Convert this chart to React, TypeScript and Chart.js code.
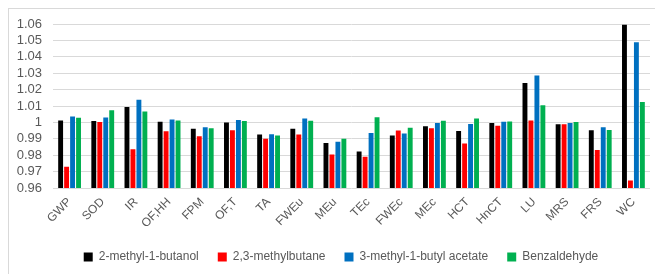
import React, { useEffect, useRef } from "react";
import { Chart, registerables } from "chart.js";

Chart.register(...registerables);

const categories = ["GWP", "SOD", "IR", "OF,HH", "FPM", "OF,T", "TA", "FWEu", "MEu", "TEc", "FWEc", "MEc", "HCT", "HnCT", "LU", "MRS", "FRS", "WC"];
const methylButanol = [1.0012, 1.0008, 1.0094, 1.0004, 0.9962, 1.0, 0.9926, 0.9962, 0.9874, 0.9822, 0.992, 0.9976, 0.9948, 0.9996, 1.024, 0.9988, 0.9952, 1.0596];
const methylbutane = [0.973, 1.0002, 0.9836, 0.9946, 0.9916, 0.9952, 0.99, 0.9926, 0.9804, 0.979, 0.995, 0.9964, 0.9872, 0.998, 1.0012, 0.9988, 0.9832, 0.9646];
const butylAcetate = [1.0036, 1.003, 1.0138, 1.0018, 0.997, 1.0014, 0.9928, 1.0024, 0.9882, 0.9936, 0.9932, 0.9996, 0.999, 1.0004, 1.0286, 0.9996, 0.997, 1.0488];
const benzaldehyde = [1.0028, 1.0074, 1.0066, 1.0012, 0.9964, 1.0008, 0.992, 1.001, 0.99, 1.0032, 0.9968, 1.001, 1.0024, 1.0006, 1.0104, 1.0002, 0.9954, 1.0124];
const seriesNames = ["2-methyl-1-butanol", "2,3-methylbutane", "3-methyl-1-butyl acetate", "Benzaldehyde"];
const seriesColors = ["#000000", "#ff0000", "#0070c0", "#00b050"];
const yMin = 0.96;
const yMax = 1.06;
const yStep = 0.01;

const legendShift = {
  id: "legendShift",
  afterLayout(chart: any) {
    if (chart.legend) {
      chart.legend.left += 16;
      chart.legend.right += 16;
    }
  },
};

export default function App() {
  const ref = useRef<HTMLCanvasElement | null>(null);
  useEffect(() => {
    if (!ref.current) return;
    const values = [methylButanol, methylbutane, butylAcetate, benzaldehyde];
    const font = { family: "'Liberation Sans', Arial, sans-serif", size: 12 };
    const chart = new Chart(ref.current, {
      type: "bar",
      data: {
        labels: categories,
        datasets: values.map((v, i) => ({
          label: seriesNames[i],
          data: v,
          backgroundColor: seriesColors[i],
          borderWidth: 0,
          categoryPercentage: 0.72,
          barPercentage: 0.82,
        })),
      },
      plugins: [legendShift],
      options: {
        animation: false,
        responsive: false,
        maintainAspectRatio: false,
        layout: { padding: { left: 0, right: 5, top: 24, bottom: 1 } },
        plugins: {
          tooltip: { enabled: false },
          legend: {
            position: "bottom",
            labels: {
              color: "#595959",
              font: { ...font, size: 12 },
              boxWidth: 9,
              boxHeight: 9,
              padding: 19,
            },
          },
        },
        scales: {
          x: {
            grid: { display: false, drawTicks: false },
            border: { display: false },
            ticks: {
              color: "#595959",
              font,
              maxRotation: 45,
              minRotation: 45,
              padding: 7,
              autoSkip: false,
            },
            afterFit: (s: any) => {
              s.height = 44;
            },
          },
          y: {
            min: yMin,
            max: yMax,
            grid: { color: "#d9d9d9", lineWidth: 1, drawTicks: false },
            border: { display: false },
            ticks: {
              stepSize: yStep,
              autoSkip: false,
              color: "#595959",
              font: { ...font, size: 13 },
              padding: 11,
              callback: (v: any) => String(Number(Number(v).toFixed(2))),
            },
            afterFit: (s: any) => {
              s.width = 53;
            },
          },
        },
      },
    });
    return () => chart.destroy();
  }, []);
  return (
    <div style={{ position: "fixed", left: 0, top: 0, width: 655, height: 274, overflow: "hidden", background: "#fff" }}>
      <div style={{ position: "absolute", left: 8, top: 8, width: 700, height: 300, border: "1px solid #d9d9d9" }} />
      <canvas ref={ref} width={655} height={274} style={{ position: "absolute", left: 0, top: 0 }} />
    </div>
  );
}
